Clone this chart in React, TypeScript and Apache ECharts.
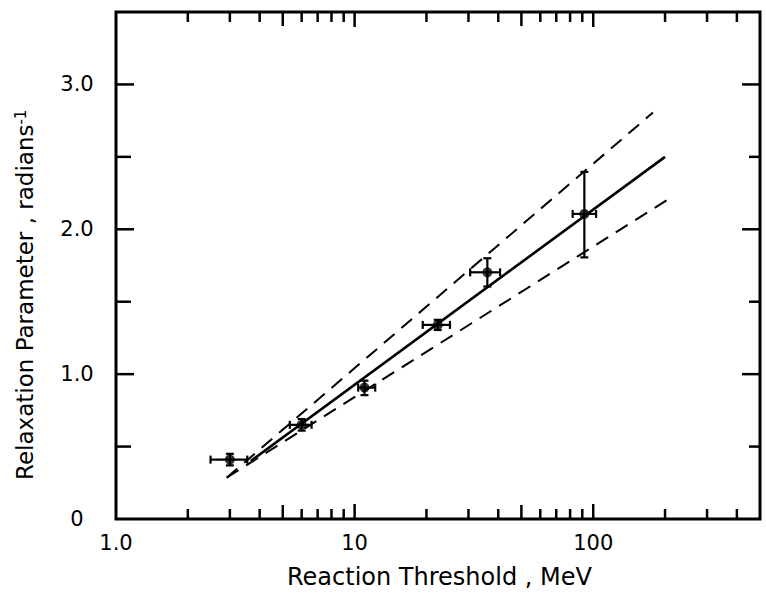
import React, { useEffect, useRef } from 'react';
import * as echarts from 'echarts';

// Axis ticks and labels
const xLabelValues = [1, 10, 100];
const xLabelTexts = ['1.0', '10', '100'];
const yLabelValues = [0, 1, 2, 3];
const yLabelTexts = ['0', '1.0', '2.0', '3.0'];
const xMajorTicks = [10, 100];
const xHalfTicks = [5, 50];
const xMinorTicks = [2, 3, 4, 6, 7, 8, 9, 20, 30, 40, 60, 70, 80, 90, 200, 300, 400];
const yMajorTicks = [1, 2, 3];
const yMinorTicks = [0.5, 1.5, 2.5];

// Measured points (Reaction Threshold MeV, Relaxation Parameter)
const pointX = [3.0, 6.0, 11.0, 22.3, 36.0, 91.8];
const pointY = [0.41, 0.65, 0.907, 1.34, 1.703, 2.106];
const xErrLow = [2.49, 5.35, 10.35, 19.3, 30.5, 82.0];
const xErrHigh = [3.55, 6.6, 12.2, 25.1, 40.7, 102.8];
const yErrLow = [0.37, 0.61, 0.855, 1.305, 1.605, 1.806];
const yErrHigh = [0.45, 0.69, 0.955, 1.375, 1.8, 2.396];

// Fitted line and bounds
const fitX = [3.67, 200];
const fitY = [0.4, 2.5];
const upperX = [2.91, 178];
const upperY = [0.285, 2.806];
const lowerX = [2.91, 208];
const lowerY = [0.285, 2.211];

const X_MIN = 1;
const X_MAX = 500;
const Y_MIN = 0;
const Y_MAX = 3.5;

const FONT = 'DejaVu Sans';

export default function App() {
  const ref = useRef<HTMLDivElement>(null);

  useEffect(() => {
    if (!ref.current) return;
    const chart = echarts.init(ref.current, null, { renderer: 'svg' });

    const xTickData = [
      ...xMajorTicks.map((v) => [v, 15]),
      ...xHalfTicks.map((v) => [v, 14]),
      ...xMinorTicks.map((v) => [v, 10]),
    ];
    const yTickData = [
      ...yMajorTicks.map((v) => [X_MIN, v, 18, 18]),
      ...yMinorTicks.map((v) => [X_MIN, v, 15, 11]),
    ];
    const errData = pointX.map((x, i) => [x, pointY[i], xErrLow[i], xErrHigh[i], yErrLow[i], yErrHigh[i]]);
    const pts = pointX.map((x, i) => [x, pointY[i]]);
    const fitData = fitX.map((x, i) => [x, fitY[i]]);
    const upData = upperX.map((x, i) => [x, upperY[i]]);
    const lowData = lowerX.map((x, i) => [x, lowerY[i]]);

    const tickStyle = { stroke: '#000', lineWidth: 2.5 };

    const option: any = {
      animation: false,
      backgroundColor: '#fff',
      grid: {
        left: 116,
        right: 6,
        top: 12,
        bottom: 77,
        show: true,
        borderColor: '#000',
        borderWidth: 3,
        backgroundColor: 'transparent',
      },
      xAxis: {
        type: 'log',
        logBase: 10,
        min: X_MIN,
        max: X_MAX,
        axisLine: { show: false },
        axisTick: { show: false },
        splitLine: { show: false },
        axisLabel: {
          color: '#000',
          fontFamily: FONT,
          fontSize: 21,
          margin: 13,
          showMaxLabel: false,
          formatter: (v: number) => {
            for (let i = 0; i < xLabelValues.length; i++) {
              if (Math.abs(v - xLabelValues[i]) < 1e-6 * xLabelValues[i]) return xLabelTexts[i];
            }
            return '';
          },
        },
      },
      yAxis: {
        type: 'value',
        min: Y_MIN,
        max: Y_MAX,
        interval: 1,
        axisLine: { show: false },
        axisTick: { show: false },
        splitLine: { show: false },
        axisLabel: {
          color: '#000',
          fontFamily: FONT,
          fontSize: 21,
          margin: 39,
          align: 'center',
          showMaxLabel: false,
          formatter: (v: number) => {
            const i = yLabelValues.indexOf(v);
            return i >= 0 ? yLabelTexts[i] : '';
          },
        },
      },
      graphic: [
        {
          type: 'text',
          x: 287,
          y: 577,
          style: {
            text: 'Reaction Threshold , MeV',
            fontFamily: FONT,
            fontSize: 24,
            fill: '#000',
            align: 'left',
            verticalAlign: 'middle',
          },
        },
        {
          type: 'text',
          x: 25,
          y: 480,
          rotation: Math.PI / 2,
          style: {
            text: 'Relaxation Parameter , radians{sup|-1}',
            fontFamily: FONT,
            fontSize: 23,
            fill: '#000',
            align: 'left',
            verticalAlign: 'middle',
            rich: {
              sup: {
                fontFamily: FONT,
                fontSize: 15,
                fill: '#000',
                verticalAlign: 'top',
              },
            },
          },
        },
      ],
      series: [
        {
          type: 'custom',
          silent: true,
          data: xTickData,
          encode: { x: 0, y: 1 },
          renderItem: (_p: any, api: any) => {
            const v = api.value(0);
            const len = api.value(1);
            const b = api.coord([v, Y_MIN]);
            const t = api.coord([v, Y_MAX]);
            return {
              type: 'group',
              children: [
                { type: 'line', shape: { x1: b[0], y1: b[1], x2: b[0], y2: b[1] - len }, style: tickStyle },
                { type: 'line', shape: { x1: t[0], y1: t[1], x2: t[0], y2: t[1] + len }, style: tickStyle },
              ],
            };
          },
        },
        {
          type: 'custom',
          silent: true,
          data: yTickData,
          encode: { x: 0, y: 1 },
          renderItem: (_p: any, api: any) => {
            const v = api.value(1);
            const lenL = api.value(2);
            const lenR = api.value(3);
            const l = api.coord([X_MIN, v]);
            const r = api.coord([X_MAX, v]);
            return {
              type: 'group',
              children: [
                { type: 'line', shape: { x1: l[0], y1: l[1], x2: l[0] + lenL, y2: l[1] }, style: tickStyle },
                { type: 'line', shape: { x1: r[0], y1: r[1], x2: r[0] - lenR, y2: r[1] }, style: tickStyle },
              ],
            };
          },
        },
        {
          type: 'line',
          data: fitData,
          showSymbol: false,
          lineStyle: { color: '#000', width: 2.6 },
          silent: true,
        },
        {
          type: 'line',
          data: upData,
          showSymbol: false,
          lineStyle: { color: '#000', width: 2, type: [14, 9] },
          silent: true,
        },
        {
          type: 'line',
          data: lowData,
          showSymbol: false,
          lineStyle: { color: '#000', width: 2, type: [14, 9] },
          silent: true,
        },
        {
          type: 'custom',
          silent: true,
          data: errData,
          encode: { x: 0, y: 1 },
          renderItem: (_p: any, api: any) => {
            const x = api.value(0);
            const y = api.value(1);
            const xl = api.coord([api.value(2), y]);
            const xh = api.coord([api.value(3), y]);
            const yl = api.coord([x, api.value(4)]);
            const yh = api.coord([x, api.value(5)]);
            const st = { stroke: '#000', lineWidth: 2.2 };
            const c = 4;
            return {
              type: 'group',
              children: [
                { type: 'line', shape: { x1: xl[0], y1: xl[1], x2: xh[0], y2: xh[1] }, style: st },
                { type: 'line', shape: { x1: xl[0], y1: xl[1] - c, x2: xl[0], y2: xl[1] + c }, style: st },
                { type: 'line', shape: { x1: xh[0], y1: xh[1] - c, x2: xh[0], y2: xh[1] + c }, style: st },
                { type: 'line', shape: { x1: yl[0], y1: yl[1], x2: yh[0], y2: yh[1] }, style: st },
                { type: 'line', shape: { x1: yl[0] - c, y1: yl[1], x2: yl[0] + c, y2: yl[1] }, style: st },
                { type: 'line', shape: { x1: yh[0] - c, y1: yh[1], x2: yh[0] + c, y2: yh[1] }, style: st },
              ],
            };
          },
        },
        {
          type: 'scatter',
          data: pts,
          symbol: 'circle',
          symbolSize: 10,
          itemStyle: { color: '#000' },
          silent: true,
        },
      ],
    };

    chart.setOption(option);
    return () => chart.dispose();
  }, []);

  return (
    <div
      ref={ref}
      style={{ position: 'absolute', left: 0, top: 0, width: 766, height: 596, background: '#fff' }}
    />
  );
}
